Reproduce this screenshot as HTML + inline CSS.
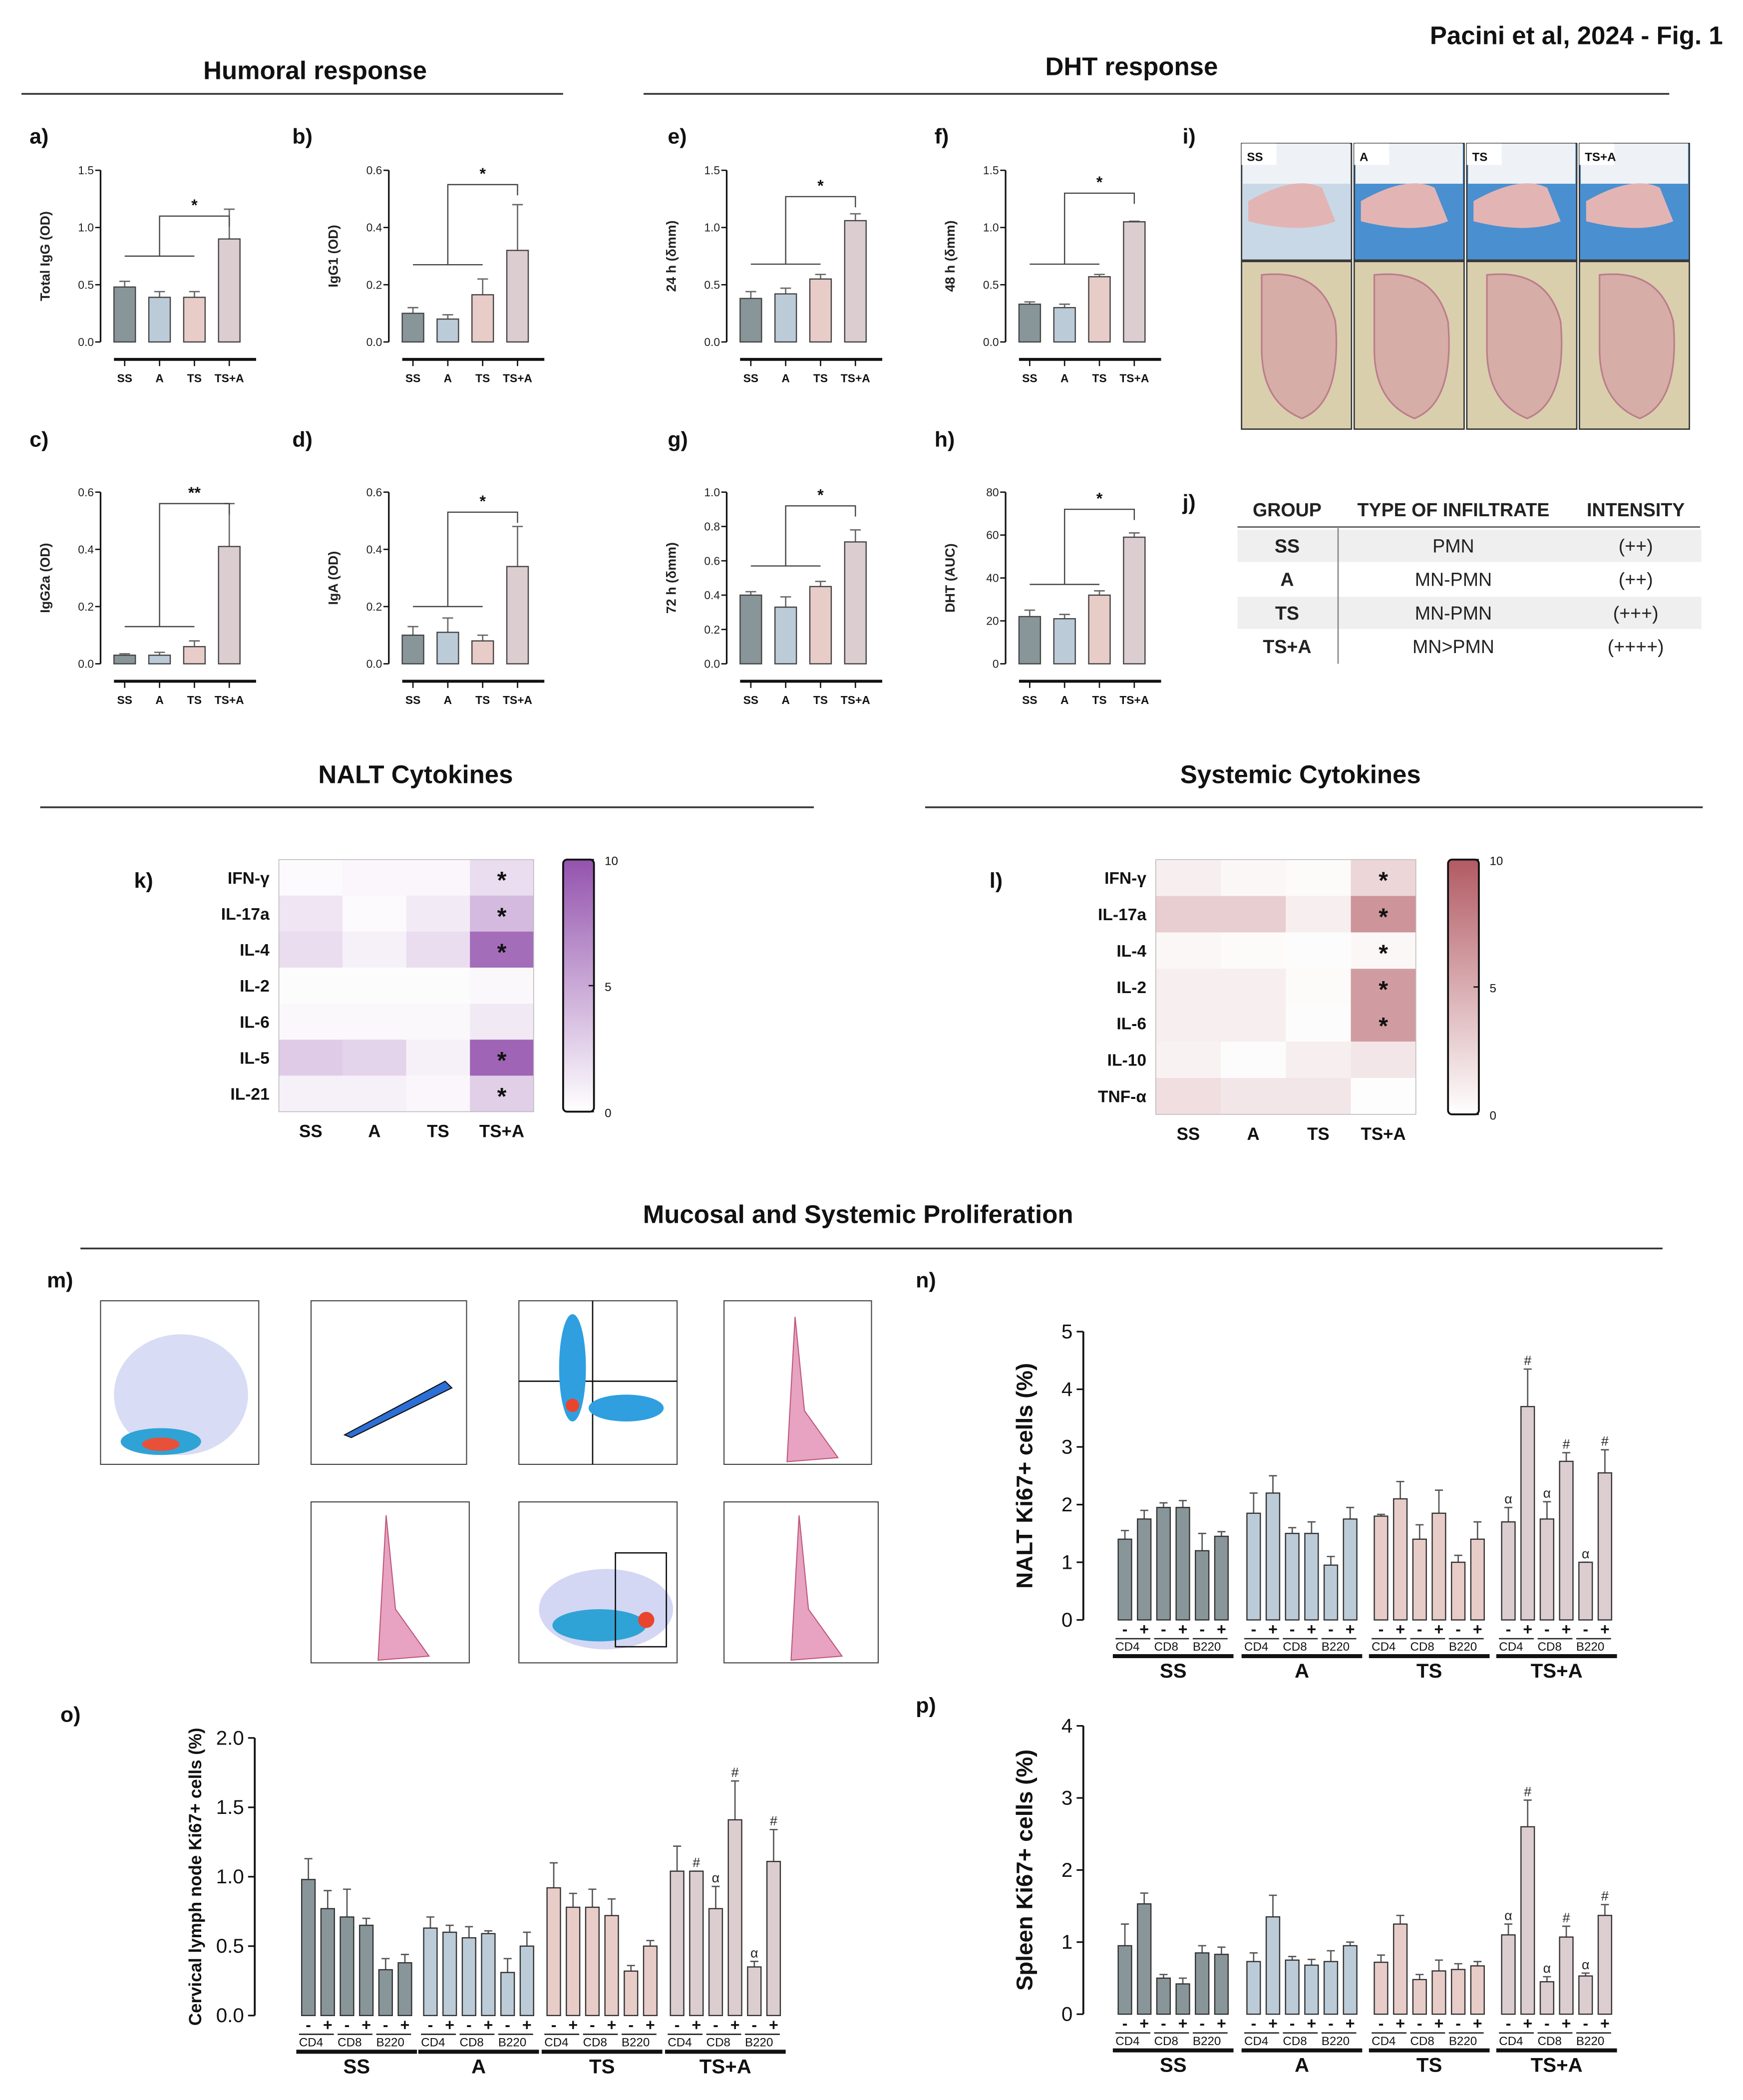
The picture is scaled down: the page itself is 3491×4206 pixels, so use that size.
<!DOCTYPE html>
<html><head><meta charset="utf-8"><title>Pacini et al 2024 Fig 1</title>
<style>html,body{margin:0;padding:0;background:#fff}svg{display:block}text{font-family:"Liberation Sans",Arial,sans-serif}</style>
</head><body>
<svg id="fig" xmlns="http://www.w3.org/2000/svg" width="3491" height="4206" viewBox="0 0 1300 1566" preserveAspectRatio="none">
<rect width="1300" height="1566" fill="#fff"/>
<g id="static" font-weight="bold" fill="#111">
<text x="1285" y="33" font-size="19" text-anchor="end">Pacini et al, 2024 - Fig. 1</text>
<text x="235" y="59" font-size="19" text-anchor="middle">Humoral response</text>
<line x1="16" y1="70" x2="420" y2="70" stroke="#333" stroke-width="1.3"/>
<text x="844" y="56" font-size="19" text-anchor="middle">DHT response</text>
<line x1="480" y1="70" x2="1245" y2="70" stroke="#333" stroke-width="1.3"/>
<text x="310" y="584" font-size="19" text-anchor="middle">NALT Cytokines</text>
<line x1="30" y1="602" x2="607" y2="602" stroke="#333" stroke-width="1.3"/>
<text x="970" y="584" font-size="19" text-anchor="middle">Systemic Cytokines</text>
<line x1="690" y1="602" x2="1270" y2="602" stroke="#333" stroke-width="1.3"/>
<text x="640" y="912" font-size="19" text-anchor="middle">Mucosal and Systemic Proliferation</text>
<line x1="60" y1="931" x2="1240" y2="931" stroke="#333" stroke-width="1.3"/>
<g font-size="16">
<text x="22" y="107">a)</text><text x="218" y="107">b)</text><text x="498" y="107">e)</text><text x="697" y="107">f)</text><text x="882" y="107">i)</text>
<text x="22" y="333">c)</text><text x="218" y="333">d)</text><text x="498" y="333">g)</text><text x="697" y="333">h)</text><text x="882" y="380">j)</text>
<text x="100" y="662">k)</text><text x="738" y="662">l)</text><text x="35" y="960">m)</text><text x="683" y="960">n)</text><text x="45" y="1284">o)</text><text x="683" y="1277">p)</text>
</g>
</g>
<g id="photos"></g>
<g id="table"></g>
<g id="flow"></g>
<g id="charts"></g>
</svg>
<script>
// ---------- DATA ----------
const groups = ["SS","A","TS","TS+A"];
const groupColors = ["#88969a","#bccbd8","#e8ccc8","#dccdd0"];
const aVals=[0.48,0.39,0.39,0.9], aErr=[0.05,0.05,0.05,0.26];
const bVals=[0.10,0.08,0.165,0.32], bErr=[0.02,0.015,0.055,0.16];
const cVals=[0.03,0.03,0.06,0.41], cErr=[0.005,0.01,0.02,0.15];
const dVals=[0.10,0.11,0.08,0.34], dErr=[0.03,0.05,0.02,0.14];
const eVals=[0.38,0.42,0.55,1.06], eErr=[0.06,0.05,0.04,0.06];
const fVals=[0.33,0.30,0.57,1.05], fErr=[0.02,0.03,0.02,0.005];
const gVals=[0.40,0.33,0.45,0.71], gErr=[0.02,0.06,0.03,0.07];
const hVals=[22,21,32,59], hErr=[3,2,2,2];
const ticks15=[0,0.5,1.0,1.5], ticks06=[0,0.2,0.4,0.6], ticks10=[0,0.2,0.4,0.6,0.8,1.0], ticks80=[0,20,40,60,80];

const naltRows=["IFN-γ","IL-17a","IL-4","IL-2","IL-6","IL-5","IL-21"];
const naltVals=[[0.3,0.5,0.5,2],[1.5,0.3,1.2,4],[2,0.8,2,8.5],[0.2,0.2,0.2,0.4],[0.4,0.4,0.4,1.3],[3,2.5,0.8,9],[0.8,0.8,0.5,2.8]];
const naltStars=[1,1,1,0,0,1,1];
const sysRows=["IFN-γ","IL-17a","IL-4","IL-2","IL-6","IL-10","TNF-α"];
const sysVals=[[1,0.5,0.3,2.5],[3,3,1,6.5],[0.5,0.3,0.2,0.5],[1,1,0.3,6],[1,1,0.2,6],[0.8,0.2,1,1.5],[2,1.5,1.5,0.1]];
const sysStars=[1,1,1,1,1,0,0];
const heatTicks=[0,5,10];

const subLabels=["CD4","CD8","B220"];
const naltVals2=[[1.4,1.75,1.95,1.95,1.2,1.45],[1.85,2.2,1.5,1.5,0.95,1.75],[1.8,2.1,1.4,1.85,1.0,1.4],[1.7,3.7,1.75,2.75,1.0,2.55]];
const naltErr2=[[0.15,0.15,0.08,0.12,0.3,0.08],[0.35,0.3,0.1,0.2,0.15,0.2],[0.03,0.3,0.25,0.4,0.12,0.3],[0.25,0.65,0.3,0.15,0,0.4]];
const naltSym=[["","","","","",""],["","","","","",""],["","","","","",""],["α","#","α","#","α","#"]];
const cervVals=[[0.98,0.77,0.71,0.65,0.33,0.38],[0.63,0.6,0.56,0.59,0.31,0.5],[0.92,0.78,0.78,0.72,0.32,0.5],[1.04,1.04,0.77,1.41,0.35,1.11]];
const cervErr=[[0.15,0.13,0.2,0.05,0.08,0.06],[0.08,0.05,0.08,0.02,0.1,0.1],[0.18,0.1,0.13,0.12,0.04,0.04],[0.18,0,0.16,0.28,0.04,0.23]];
const cervSym=[["","","","","",""],["","","","","",""],["","","","","",""],["","#","α","#","α","#"]];
const splVals=[[0.95,1.53,0.5,0.42,0.85,0.83],[0.73,1.35,0.75,0.68,0.73,0.95],[0.72,1.25,0.48,0.6,0.62,0.67],[1.1,2.6,0.45,1.07,0.53,1.37]];
const splErr=[[0.3,0.15,0.05,0.08,0.1,0.1],[0.12,0.3,0.05,0.08,0.15,0.05],[0.1,0.12,0.07,0.15,0.08,0.06],[0.15,0.37,0.07,0.15,0.04,0.15]];
const splSym=[["","","","","",""],["","","","","",""],["","","","","",""],["α","#","α","#","α","#"]];
const ticks5=[0,1,2,3,4,5], ticks2=[0,0.5,1.0,1.5,2.0], ticks4=[0,1,2,3,4];

// ---------- HELPERS ----------
const NS="http://www.w3.org/2000/svg";
function el(tag,attrs,parent){const e=document.createElementNS(NS,tag);for(const k in attrs)e.setAttribute(k,attrs[k]);parent.appendChild(e);return e;}
function txt(s,attrs,parent){const t=el("text",attrs,parent);t.textContent=s;return t;}
const charts=document.getElementById("charts");
function fmt(v,ticks){const st=ticks[1]-ticks[0];return st<1?v.toFixed(1):String(v);}

function smallPanel(name,ax,top,bot,ticks,vals,errs,ylabel,lo,hi,star,tickFmt){
  const g=el("g",{},charts);
  
  
  const ymax=ticks[ticks.length-1];
  const y=v=>bot-(v/ymax)*(bot-top);
  const cx=i=>ax+18+26*i;
  el("line",{x1:ax,y1:top,x2:ax,y2:bot,stroke:"#111","stroke-width":1.2},g);
  ticks.forEach(t=>{
    el("line",{x1:ax-4,y1:y(t),x2:ax,y2:y(t),stroke:"#111","stroke-width":1},g);
    const tl=txt(tickFmt(t),{x:ax-5,y:y(t)+3,"font-size":8.5,"text-anchor":"end",fill:"#222"},g);
    
    
  });
  const yl=txt(ylabel,{transform:`translate(${ax-38},${(top+bot)/2}) rotate(-90)`,"font-size":10,"font-weight":"bold","text-anchor":"middle",fill:"#222"},g);
  
  
  vals.forEach((v,i)=>{
    const x=cx(i);
    el("line",{x1:x,y1:y(v),x2:x,y2:y(v+errs[i]),stroke:"#666","stroke-width":1},g);
    el("line",{x1:x-4,y1:y(v+errs[i]),x2:x+4,y2:y(v+errs[i]),stroke:"#666","stroke-width":1},g);
    const b=el("rect",{x:x-8,y:y(v),width:16,height:bot-y(v),fill:groupColors[i],stroke:"#444","stroke-width":0.9},g);
    
    
    el("line",{x1:x,y1:bot+13,x2:x,y2:bot+18,stroke:"#111","stroke-width":1},g);
    const xl=txt(groups[i],{x:x,y:bot+30,"font-size":8.5,"font-weight":"bold","text-anchor":"middle",fill:"#111"},g);
    
    
  });
  el("line",{x1:ax+10,y1:bot+13,x2:ax+116,y2:bot+13,stroke:"#111","stroke-width":2.2},g);
  // bracket
  const bl=el("path",{d:`M${cx(0)} ${y(lo)}H${cx(2)}M${cx(1)} ${y(lo)}V${y(hi)}H${cx(3)}V${y(hi)+8}`,fill:"none",stroke:"#444","stroke-width":0.9},g);
  
  
  const s=txt(star,{x:(cx(1)+cx(3))/2,y:y(hi)-4,"font-size":12,"font-weight":"bold","text-anchor":"middle",fill:"#111"},g);
  
  
}
const f1=t=>t.toFixed(1), f0=t=>String(t);
smallPanel("panel-a-total-igg",75,127,255,ticks15,aVals,aErr,"Total IgG (OD)",0.75,1.1,"*",f1);
smallPanel("panel-b-igg1",290,127,255,ticks06,bVals,bErr,"IgG1 (OD)",0.27,0.55,"*",f1);
smallPanel("panel-e-24h",542,127,255,ticks15,eVals,eErr,"24 h (δmm)",0.68,1.27,"*",f1);
smallPanel("panel-f-48h",750,127,255,ticks15,fVals,fErr,"48 h (δmm)",0.68,1.3,"*",f1);
smallPanel("panel-c-igg2a",75,367,495,ticks06,cVals,cErr,"IgG2a (OD)",0.13,0.56,"**",f1);
smallPanel("panel-d-iga",290,367,495,ticks06,dVals,dErr,"IgA (OD)",0.2,0.53,"*",f1);
smallPanel("panel-g-72h",542,367,495,ticks10,gVals,gErr,"72 h (δmm)",0.57,0.92,"*",f1);
smallPanel("panel-h-dht-auc",750,367,495,ticks80,hVals,hErr,"DHT (AUC)",37,72,"*",f0);

// ---------- HEATMAPS ----------
function lerp(c1,c2,t){const p=s=>[1,3,5].map(i=>parseInt(s.substr(i,2),16));const a=p(c1),b=p(c2);return "rgb("+a.map((v,i)=>Math.round(v+(b[i]-v)*t)).join(",")+")";}
function heatmap(name,x0,y0,w,h,rows,vals,stars,hi,cbx){
  const g=el("g",{},charts);
  
  
  const cw=w/4,rh=h/rows.length;
  rows.forEach((r,ri)=>{
    const rl=txt(r,{x:x0-7,y:y0+rh*ri+rh/2+4.5,"font-size":12.5,"font-weight":"bold","text-anchor":"end",fill:"#111"},g);
    
    
    vals[ri].forEach((v,ci)=>{
      const c=el("rect",{x:x0+cw*ci,y:y0+rh*ri,width:cw+0.3,height:rh+0.3,fill:lerp("#ffffff",hi,v/10)},g);
      
      
    });
    if(stars[ri]){const s=txt("*",{x:x0+cw*3.5,y:y0+rh*ri+rh/2+8,"font-size":18,"font-weight":"bold","text-anchor":"middle",fill:"#111"},g);
      
      }
  });
  el("rect",{x:x0,y:y0,width:w,height:h,fill:"none",stroke:"#bbb","stroke-width":0.6},g);
  groups.forEach((gname,ci)=>{
    const l=txt(gname,{x:x0+cw*ci+cw/2,y:y0+h+19,"font-size":13,"font-weight":"bold","text-anchor":"middle",fill:"#111"},g);
    
    
  });
  const id="grad"+name;
  const defs=el("defs",{},g);const lg=el("linearGradient",{id:id,x1:0,y1:1,x2:0,y2:0},defs);
  el("stop",{offset:0,"stop-color":"#fff"},lg);el("stop",{offset:1,"stop-color":hi},lg);
  const cb=el("rect",{x:cbx,y:y0,width:23,height:h,fill:`url(#${id})`,stroke:"#111","stroke-width":1.4,rx:3},g);
  
  
  heatTicks.forEach(t=>{
    const yy=y0+h-(t/10)*h;
    el("line",{x1:cbx+19,y1:yy,x2:cbx+23,y2:yy,stroke:"#111","stroke-width":1},g);
    const tl=txt(String(t),{x:cbx+31,y:yy+4,"font-size":9,fill:"#111"},g);
    
    
  });
}
heatmap("heatmap-nalt",208,641,190,188,naltRows,naltVals,naltStars,"#9453ae",420);
heatmap("heatmap-systemic",862,641,194,190,sysRows,sysVals,sysStars,"#b25a63",1080);

// ---------- BIG GROUPED CHARTS ----------
function bigPanel(name,ax,top,bot,ticks,starts,vals,errs,syms,ylabel,ylx,fsz,tf){
  const g=el("g",{},charts);
  
  
  const ymax=ticks[ticks.length-1];
  const y=v=>bot-(v/ymax)*(bot-top);
  el("line",{x1:ax,y1:top,x2:ax,y2:bot,stroke:"#111","stroke-width":1.4},g);
  ticks.forEach(t=>{
    el("line",{x1:ax-5,y1:y(t),x2:ax,y2:y(t),stroke:"#111","stroke-width":1.2},g);
    const tl=txt(tf(t),{x:ax-8,y:y(t)+5,"font-size":fsz,"text-anchor":"end",fill:"#111"},g);
    
    
  });
  const yl=txt(ylabel,{transform:`translate(${ylx},${(top+bot)/2}) rotate(-90)`,"font-size":ylx<300?13:17,"font-weight":"bold","text-anchor":"middle",fill:"#111"},g);
  
  
  starts.forEach((sx,gi)=>{
    vals[gi].forEach((v,i)=>{
      const x=sx+i*14.4+5;
      const e=errs[gi][i];
      el("line",{x1:x,y1:y(v),x2:x,y2:y(v+e),stroke:"#555","stroke-width":1},g);
      el("line",{x1:x-3,y1:y(v+e),x2:x+3,y2:y(v+e),stroke:"#555","stroke-width":1},g);
      const b=el("rect",{x:x-5,y:y(v),width:10,height:bot-y(v),fill:groupColors[gi],stroke:"#333","stroke-width":0.9},g);
      
      
      if(syms[gi][i]){const s=txt(syms[gi][i],{x:x,y:y(v+e)-3,"font-size":10,"text-anchor":"middle",fill:"#222","font-family":"Liberation Serif"},g);
        
        }
      const pm=txt(i%2?"+":"-",{x:x,y:bot+11,"font-size":12,"font-weight":"bold","text-anchor":"middle",fill:"#111"},g);
      
      
    });
    subLabels.forEach((s,k)=>{
      const lx=sx+k*28.8-2;
      el("line",{x1:lx,y1:bot+14,x2:lx+26,y2:bot+14,stroke:"#222","stroke-width":1},g);
      const sl=txt(s,{x:lx,y:bot+23,"font-size":9,fill:"#111"},g);
      
      
    });
    el("line",{x1:sx-4,y1:bot+27,x2:sx+86,y2:bot+27,stroke:"#111","stroke-width":3},g);
    const gl=txt(groups[gi],{x:sx+41,y:bot+43,"font-size":15,"font-weight":"bold","text-anchor":"middle",fill:"#111"},g);
    
    
  });
}
bigPanel("panel-n-nalt-ki67",808,993,1208,ticks5,[834,930,1025,1120],naltVals2,naltErr2,naltSym,"NALT Ki67+ cells (%)",770,15,t=>String(t));
bigPanel("panel-o-cervical-ki67",190,1296,1503,ticks2,[225,316,408,500],cervVals,cervErr,cervSym,"Cervical lymph node Ki67+ cells (%)",150,15,t=>t.toFixed(1));
bigPanel("panel-p-spleen-ki67",808,1287,1502,ticks4,[834,930,1025,1120],splVals,splErr,splSym,"Spleen Ki67+ cells (%)",770,15,t=>String(t));

// ---------- PHOTOS (i) ----------
const ph=document.getElementById("photos");
const photoLabels=["SS","A","TS","TS+A"];
photoLabels.forEach((l,i)=>{
  const x=926+i*84;
  const r=el("rect",{x:x,y:107,width:82,height:87,fill:i==0?"#c9d8e6":"#4a8fd0",stroke:"#333","stroke-width":1},ph);
  
  
  el("rect",{x:x+1,y:107,width:80,height:30,fill:"#eef2f6"},ph);
  el("path",{d:`M${x+5} ${y0=150}Q${x+40} ${130} ${x+60} ${140}L${x+70} ${165}Q${x+45} ${175} ${x+5} ${165}Z`,fill:"#e2b5b4"},ph);
  el("rect",{x:x,y:107,width:26,height:16,fill:"#fff"},ph);
  txt(l,{x:x+4,y:120,"font-size":9,"font-weight":"bold",fill:"#111"},ph);
  const h=el("rect",{x:x,y:195,width:82,height:125,fill:"#d9cfad",stroke:"#333","stroke-width":1},ph);
  
  
  el("path",{d:`M${x+15} 205Q${x+60} 200 ${x+70} 240Q${x+75} 300 ${x+45} 312Q${x+15} 300 ${x+15} 260Z`,fill:"#d7a8a6",stroke:"#b86f86","stroke-width":1.2,opacity:0.85},ph);
});
var y0;

// ---------- TABLE (j) ----------
const tb=document.getElementById("table");
const tHead=["GROUP","TYPE OF INFILTRATE","INTENSITY"];
const tRows=[["SS","PMN","(++)"],["A","MN-PMN","(++)"],["TS","MN-PMN","(+++)"],["TS+A","MN>PMN","(++++)"]];
const colX=[960,1084,1220];
tHead.forEach((h,i)=>txt(h,{x:colX[i],y:385,"font-size":14,"font-weight":"bold","text-anchor":"middle",fill:"#222"},tb));
el("line",{x1:923,y1:393,x2:1268,y2:393,stroke:"#555","stroke-width":1},tb);
tRows.forEach((r,ri)=>{
  const yy=395+ri*25;
  const bg=el("rect",{x:923,y:yy,width:346,height:24,fill:ri%2?"#ffffff":"#efefef"},tb);
  
  
  r.forEach((c,i)=>txt(c,{x:colX[i],y:yy+17,"font-size":14,"font-weight":i==0?"bold":"normal","text-anchor":"middle",fill:"#222"},tb));
});
el("line",{x1:998,y1:393,x2:998,y2:495,stroke:"#888","stroke-width":1},tb);

// ---------- FLOW PLOTS (m) ----------
const fl=document.getElementById("flow");
const boxes=[[75,970,118,122],[232,970,116,122],[387,970,118,122],[540,970,110,122],[232,1120,118,120],[387,1120,118,120],[540,1120,115,120]];
boxes.forEach((b,i)=>{
  const r=el("rect",{x:b[0],y:b[1],width:b[2],height:b[3],fill:"#fff",stroke:"#444","stroke-width":0.8},fl);
  
  
  const [x,yy,w,h]=b;
  if(i==0){el("ellipse",{cx:x+60,cy:yy+70,rx:50,ry:45,fill:"#c8cdf0",opacity:0.7},fl);
    el("ellipse",{cx:x+45,cy:yy+105,rx:30,ry:10,fill:"#2fa3d6"},fl);el("ellipse",{cx:x+45,cy:yy+107,rx:14,ry:5,fill:"#e8503a"},fl);}
  if(i==1){el("path",{d:`M${x+25} ${yy+100}L${x+100} ${yy+60}L${x+105} ${yy+65}L${x+30} ${yy+102}Z`,fill:"#2c6fd6",stroke:"#111","stroke-width":0.8},fl);}
  if(i==2){el("line",{x1:x+55,y1:yy,x2:x+55,y2:yy+h,stroke:"#111"},fl);el("line",{x1:x,y1:yy+60,x2:x+w,y2:yy+60,stroke:"#111"},fl);
    el("ellipse",{cx:x+40,cy:yy+50,rx:10,ry:40,fill:"#2f9fe0"},fl);el("ellipse",{cx:x+80,cy:yy+80,rx:28,ry:10,fill:"#2f9fe0"},fl);el("circle",{cx:x+40,cy:yy+78,r:5,fill:"#e9442e"},fl);}
  if(i==5){el("ellipse",{cx:x+65,cy:yy+80,rx:50,ry:30,fill:"#c8cdf0",opacity:0.8},fl);el("ellipse",{cx:x+60,cy:yy+92,rx:35,ry:12,fill:"#2fa3d6"},fl);el("circle",{cx:x+95,cy:yy+88,r:6,fill:"#e9442e"},fl);
    el("rect",{x:x+72,y:yy+38,width:38,height:70,fill:"none",stroke:"#111"},fl);}
  if(i==3||i==4||i==6){const cx=i==3?x+55:x+58;
    el("path",{d:`M${cx-8} ${yy+h-2}L${cx-2} ${yy+(i==3?12:10)}L${cx+5} ${yy+h-40}L${cx+30} ${yy+h-5}Z`,fill:"#e7a3c1",stroke:"#c0577c","stroke-width":0.8},fl);}
});
</script>
</body></html>
